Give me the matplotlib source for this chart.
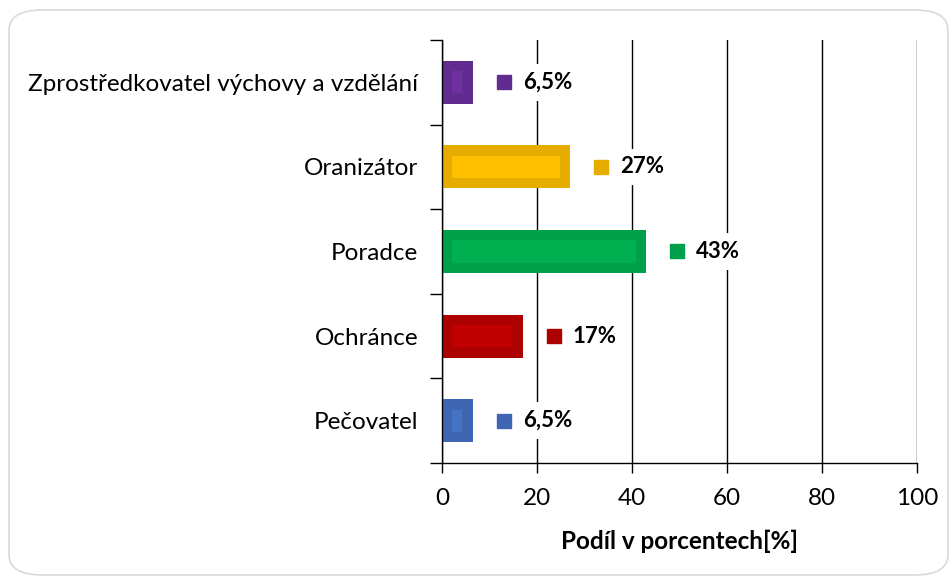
import matplotlib
matplotlib.use("Agg")
import matplotlib.pyplot as plt
from matplotlib import transforms
from matplotlib.patches import FancyBboxPatch
from matplotlib.ticker import MultipleLocator, FixedLocator

categories = ["Pečovatel", "Ochránce", "Poradce", "Oranizátor",
              "Zprostředkovatel výchovy a vzdělání"]
values = [6.5, 17, 43, 27, 6.5]
value_labels = ["6,5%", "17%", "43%", "27%", "6,5%"]
outer_colors = ["#3E66B2", "#AD0000", "#00A04B", "#E6AC00", "#612C8F"]
inner_colors = ["#4472C4", "#C00000", "#00B050", "#FFC000", "#7030A0"]
xlabel = "Podíl v porcentech[%]"

plt.rcParams['font.family'] = ['Lato', 'DejaVu Sans']

fig = plt.figure(figsize=(9.53, 5.80), dpi=100)
fig.patches.append(FancyBboxPatch((9/953, 5/580), 939/953, 565/580,
                                  boxstyle="round,pad=0,rounding_size=0.035",
                                  transform=fig.transFigure, fc="white",
                                  ec="#D9D9D9", lw=1.2, zorder=-10))
ax = fig.add_axes([442/953, 1 - 463/580, 475/953, 423/580])
ax.patch.set_alpha(0)

px_x = 100 / 475.0   # data units per pixel in x
px_y = 5 / 423.0     # data units per pixel in y
ypos = list(range(len(categories)))
h = 0.51
inset = 10.5

ax.barh(ypos, values, height=h, color=outer_colors, zorder=2)
ax.barh(ypos, [v - 2 * inset * px_x for v in values],
        left=inset * px_x, height=h - 2 * inset * px_y,
        color=inner_colors, zorder=3)

for y, v, lab, c in zip(ypos, values, value_labels, outer_colors):
    tsq = transforms.offset_copy(ax.transData, fig=fig, x=31, y=0, units='dots')
    ax.plot([v], [y], marker='s', markersize=10, color=c, transform=tsq,
            zorder=6, clip_on=False)
    ttx = transforms.offset_copy(ax.transData, fig=fig, x=50, y=0, units='dots')
    ax.text(v, y, lab, transform=ttx, ha='left', va='center', fontsize=16,
            fontweight='bold', color='black', zorder=5,
            bbox=dict(boxstyle='square,pad=0.35', fc='white', ec='none'))

ax.set_xlim(0, 100)
ax.set_ylim(-0.5, 4.5)
ax.xaxis.set_major_locator(MultipleLocator(20))
ax.grid(axis='x', color='black', lw=1, zorder=0)
ax.set_axisbelow(True)

ax.set_yticks(ypos)
ax.set_yticklabels(categories, fontsize=17.5)
ax.yaxis.set_minor_locator(FixedLocator([i - 0.5 for i in range(len(categories) + 1)]))
ax.tick_params(axis='y', which='major', length=0, pad=17)
ax.tick_params(axis='y', which='minor', length=9, width=1, color='black')
ax.tick_params(axis='x', which='major', length=7, width=1, labelsize=17.5, pad=11)

for s in ['top', 'right']:
    ax.spines[s].set_visible(False)
for s in ['left', 'bottom']:
    ax.spines[s].set_color('black')
    ax.spines[s].set_linewidth(1)

ax.set_xlabel(xlabel, fontsize=17.5, fontweight='bold', labelpad=15)

fig.savefig("out.png", dpi=100)
